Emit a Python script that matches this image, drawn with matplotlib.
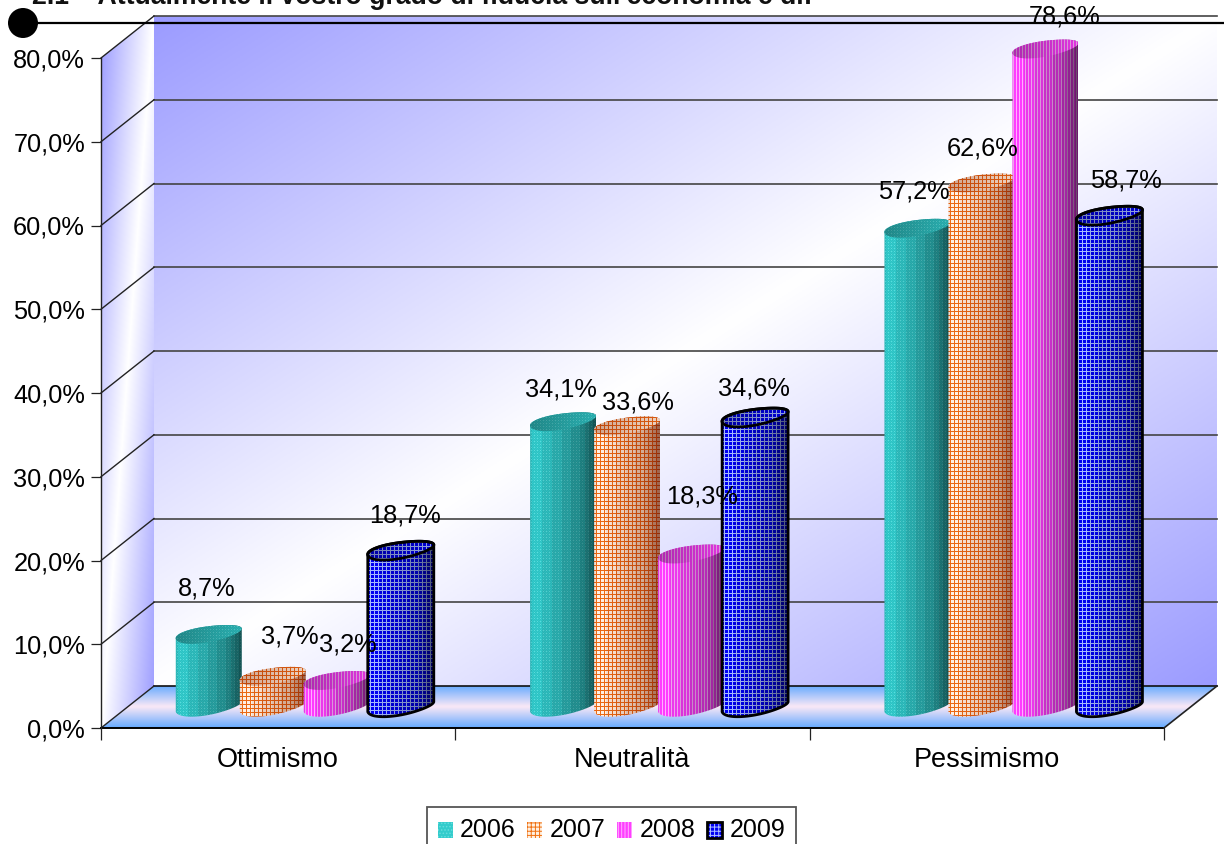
# -*- coding: utf-8 -*-
import numpy as np
import matplotlib
matplotlib.use("Agg")
import matplotlib.pyplot as plt
from matplotlib.legend_handler import HandlerBase
from matplotlib.lines import Line2D
from matplotlib.patches import Circle, Patch, Polygon, Rectangle

plt.rcParams['font.family'] = ['Liberation Sans', 'DejaVu Sans']
plt.rcParams['hatch.linewidth'] = 0.7

# Dati
categorie = ["Ottimismo", "Neutralità", "Pessimismo"]
anni = ["2006", "2007", "2008", "2009"]
valori_2006 = [8.7, 34.1, 57.2]
valori_2007 = [3.7, 33.6, 62.6]
valori_2008 = [3.2, 18.3, 78.6]
valori_2009 = [18.7, 34.6, 58.7]
y_ticks = [0, 10, 20, 30, 40, 50, 60, 70, 80]
titolo = "2.1    Attualmente il vostro grado di fiducia sull'economia e di:"

W, H = 1224, 844
AX_L, AX_R, AX_T, AX_B = 101, 1164, 58, 728
PX_X = (AX_R - AX_L) / 3.0     # pixel per categoria
PX_Y = (AX_B - AX_T) / 80.0    # pixel per punto %
DX = 53 / PX_X                 # profondita' 3D
DY = 42 / PX_Y
BAR_W = 66 / PX_X
BAR_STEP = 64 / PX_X
ELL_B = 8 / PX_Y

# scostamento delle etichette dalla cima della barra, in pixel
label_off = [[(-1, 46), (18, 40), (12, 36), (5, 35)],
             [(-1, 32), (12, 23), (12, 57), (0, 29)],
             [(-2, 36), (2, 34), (20, 32), (18, 35)]]


def blend(c0, c1, t):
    return np.asarray(c0)[None, None, :] * (1 - t[..., None]) + np.asarray(c1)[None, None, :] * t[..., None]


def texture(kind, nx, ny):
    xx, yy = np.meshgrid(np.arange(nx), np.arange(ny))
    img = np.zeros((ny, nx, 3))
    if kind == 0:
        img[:] = (51, 204, 204)
        img[((xx + yy) % 2 == 0)] = (46, 192, 194)
        img[(xx % 3 == 0) & (yy % 3 == 0)] = (90, 220, 220)
    elif kind == 1:
        img[:] = (255, 240, 228)
        img[(xx % 4 == 0) | (yy % 4 == 0)] = (235, 105, 20)
    elif kind == 2:
        img[:] = (255, 60, 255)
        img[xx % 3 == 0] = (255, 175, 255)
    else:
        img[:] = (0, 0, 240)
        img[(xx % 4 == 0) | (yy % 4 == 0)] = (165, 185, 255)
    return img


def apply_shade(img, shade, kind):
    # l'arancio scurisce verso il marrone, non verso il grigio
    if kind == 1:
        pw = np.array([0.55, 1.0, 1.25])
        return img * shade[None, :, None] ** pw[None, None, :] / 255
    return img * shade[None, :, None] / 255


def ellipse_pts(cx, cy, a, b, t, wob=0.0):
    r = 1 + wob * np.sin(3 * t + 1.0)
    ex = cx + a * np.cos(t) * r
    ey = cy + (b * np.sin(t) + 0.15 * np.cos(t) * a * PX_X / PX_Y) * r
    return ex, ey


def draw_bar(ax, kind, cx, val, z):
    a = BAR_W / 2
    base = DY / 2
    top = base + val
    t1 = np.linspace(0, np.pi, 40)          # meta' superiore
    t2 = np.linspace(np.pi, 2 * np.pi, 40)  # meta' inferiore
    xt, yt = ellipse_pts(cx, top, a, ELL_B, t1, 0.04)
    xb, yb = ellipse_pts(cx, base, a, ELL_B, t2, 0.04)
    body = np.r_[np.c_[xt, yt], np.c_[xb, yb]]

    # immagine allineata ai pixel, altrimenti la trama va in moire
    nx = 68
    ny = int(round((val + 4 * ELL_B) * PX_Y))
    y0 = round((base - 2 * ELL_B) * PX_Y) / PX_Y
    x0 = round((cx - a - 1 / PX_X) * PX_X) / PX_X
    extent = (x0, x0 + nx / PX_X, y0, y0 + ny / PX_Y)

    s = np.linspace(0, 1, nx)
    shade = np.interp(s, [0, 0.12, 0.3, 0.55, 0.8, 1], [0.93, 1.0, 0.92, 0.8, 0.66, 0.42])
    shade = np.round(shade * 14) / 14   # bande verticali come nell'originale
    img = apply_shade(texture(kind, nx, ny), shade, kind)
    im = ax.imshow(np.clip(img, 0, 1), extent=extent, aspect='auto', interpolation='nearest', zorder=z)
    im.set_clip_box(fig.bbox)
    im.set_clip_path(Polygon(body, closed=True, transform=ax.transData))

    tt = np.linspace(0, 2 * np.pi, 80)
    xe, ye = ellipse_pts(cx, top, a, ELL_B, tt, 0.04)
    shade_t = np.interp(s, [0, 1], [0.68, 0.88])
    img_t = apply_shade(texture(kind, nx, ny), shade_t, kind)
    im_t = ax.imshow(np.clip(img_t, 0, 1), extent=extent, aspect='auto', interpolation='nearest', zorder=z + 0.1)
    im_t.set_clip_box(fig.bbox)
    im_t.set_clip_path(Polygon(np.c_[xe, ye], closed=True, transform=ax.transData))

    if kind == 3:
        ax.add_patch(Polygon(body, closed=True, fc='none', ec='black', lw=2.0, zorder=z + 0.2, clip_on=False))
        ax.add_patch(Polygon(np.c_[xe, ye], closed=True, fc='none', ec='black', lw=2.0, zorder=z + 0.2, clip_on=False))


class HandlerSwatch(HandlerBase):
    def create_artists(self, legend, orig, xd, yd, w, h, fontsize, trans):
        out = []
        r = Rectangle((xd, yd), w, h, fc=orig.get_facecolor(), ec=orig.get_edgecolor(), lw=0,
                      hatch=orig.get_hatch(), transform=trans)
        out.append(r)
        if orig.get_label() == anni[-1]:
            out.append(Rectangle((xd, yd), w, h, fc='none', ec='black', lw=2, transform=trans))
        return out


fig = plt.figure(figsize=(W / 100, H / 100), dpi=100, facecolor='white')
ax = fig.add_axes([AX_L / W, 1 - AX_B / H, (AX_R - AX_L) / W, (AX_B - AX_T) / H])
ax.patch.set_visible(False)
for sp in ax.spines.values():
    sp.set_visible(False)

blu = (155, 155, 255)
bianco = (255, 255, 255)

# parete di fondo
nx, ny = 530, 335
u, v = np.meshgrid(np.linspace(0, 1, nx), np.linspace(0, 1, ny))
t = 1 - np.abs(u + v - 1)
im = ax.imshow(blend(blu, bianco, t) / 255, extent=(DX, 3 + DX, DY, 80 + DY), aspect='auto', zorder=1)
im.set_clip_box(fig.bbox)

# parete sinistra
nx, ny = 53, 350
u, v = np.meshgrid(np.linspace(0, 1, nx), np.linspace(0, 1, ny))
t = 1 - np.abs(u + v - 1)
im = ax.imshow(blend(blu, bianco, t) / 255, extent=(0, DX, 0, 80 + DY), aspect='auto', zorder=1)
im.set_clip_box(fig.bbox)
im.set_clip_path(Polygon([(0, 0), (DX, DY), (DX, 80 + DY), (0, 80)], closed=True, transform=ax.transData))

# pavimento
v = np.linspace(0, 1, 42)[:, None]
floor = np.interp(v, [0, 0.5, 1], [0, 1, 0])
c_a, c_b = np.array((102, 170, 255)), np.array((250, 232, 246))
img = (c_a[None, None, :] * (1 - floor[..., None]) + c_b[None, None, :] * floor[..., None]) / 255
im = ax.imshow(img, extent=(0, 3 + DX, 0, DY), aspect='auto', zorder=1.5)
im.set_clip_box(fig.bbox)
im.set_clip_path(Polygon([(0, 0), (3, 0), (3 + DX, DY), (DX, DY)], closed=True, transform=ax.transData))

# griglia
for y in y_ticks:
    col = '#111111' if y == 0 else '#444444'
    ax.plot([DX, 3 + DX], [y + DY, y + DY], color=col, lw=1.2, zorder=2, clip_on=False)
    ax.plot([0, DX], [y, y + DY], color='#222222', lw=1.0, zorder=2, clip_on=False)
ax.plot([0, 3], [0, 0], color='black', lw=1.4, zorder=2, clip_on=False)
ax.plot([3, 3 + DX], [0, DY], color='#222222', lw=1.2, zorder=2, clip_on=False)
ax.plot([0, 0], [0, 80], color='#222222', lw=1.0, zorder=2, clip_on=False)

# barre
serie = [valori_2006, valori_2007, valori_2008, valori_2009]
for i in range(len(categorie)):
    for j, vals in enumerate(serie):
        cx = i + 0.5 + DX / 2 + (j - 1.5) * BAR_STEP - 1 / PX_X
        draw_bar(ax, j, cx, vals[i], 3 + i + j * 0.3)
        ax.annotate(f"{vals[i]:.1f}%".replace('.', ','), (cx, vals[i] + DY / 2), xycoords='data',
                    xytext=(label_off[i][j][0] * 0.72, label_off[i][j][1] * 0.72), textcoords='offset points',
                    ha='center', va='center', fontsize=18.3, color='black', zorder=20, annotation_clip=False)

ax.set_xlim(0, 3)
ax.set_ylim(0, 80)
ax.set_yticks(y_ticks)
ax.set_yticklabels([f"{y},0%" for y in y_ticks], fontsize=18.3)
ax.set_xticks([0, 1, 2, 3])
ax.set_xticklabels([])
ax.set_xticks([0.5, 1.5, 2.5], labels=categorie, minor=True, fontsize=19.5)
ax.tick_params(axis='y', length=7.5, width=0.9, color='#222222', pad=4)
ax.tick_params(axis='x', which='major', length=8.5, width=0.9, color='#222222')
ax.tick_params(axis='x', which='minor', length=0, pad=14)

# legenda
handles = [Patch(fc='#33cccc', ec='#66dddd', hatch='.....', label=anni[0]),
           Patch(fc='#fff0e0', ec='#f07010', hatch='++++', label=anni[1]),
           Patch(fc='#ff40ff', ec='#ffb0ff', hatch='|||||', label=anni[2]),
           Patch(fc='#0000f0', ec='#b0c0ff', hatch='++++', label=anni[3])]
leg = ax.legend(handles=handles, ncol=4, loc='lower left', fontsize=18,
                bbox_to_anchor=(427 / W, 1 - 852.5 / H), bbox_transform=fig.transFigure,
                frameon=True, fancybox=False, framealpha=1, edgecolor='#555555', borderaxespad=0,
                handlelength=0.6, handleheight=0.6, handletextpad=0.3, columnspacing=0.46,
                borderpad=0.42, handler_map={Patch: HandlerSwatch()})
leg.get_frame().set_linewidth(1.3)
leg.set_zorder(30)

# titolo tagliato e linea con il punto
fig.text(32 / W, 1 - 4 / H, titolo, fontsize=19.2, fontweight='bold', color='#111111', ha='left', va='baseline')
fig.add_artist(Line2D([23 / W, 1], [1 - 23 / H, 1 - 23 / H], color='black', lw=1.6, zorder=40))
fig.add_artist(Circle((23, H - 23), 15, fc='black', ec='none', transform=None, zorder=41))

fig.savefig("out.png", dpi=100)
